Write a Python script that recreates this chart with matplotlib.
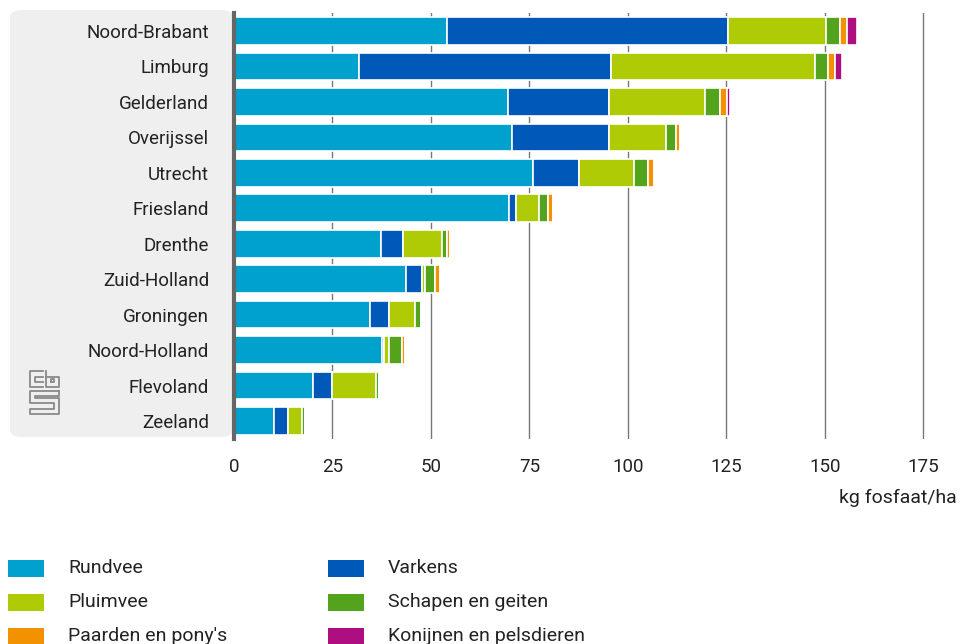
import numpy as np
import matplotlib
matplotlib.use("Agg")
import matplotlib.pyplot as plt
from matplotlib.patches import FancyBboxPatch, Rectangle

plt.rcParams['font.family'] = ['Roboto', 'DejaVu Sans']

provinces = ["Noord-Brabant", "Limburg", "Gelderland", "Overijssel", "Utrecht",
             "Friesland", "Drenthe", "Zuid-Holland", "Groningen", "Noord-Holland",
             "Flevoland", "Zeeland"]

rundvee  = [54.0, 31.8, 69.5, 70.7, 75.8, 69.9, 37.3, 43.7, 34.6, 37.7, 20.1, 10.2]
varkens  = [71.5, 63.8, 25.7, 24.5, 11.7, 1.7, 5.5, 4.0, 4.8, 0.4, 4.7, 3.6]
pluimvee = [24.9, 51.9, 24.4, 14.5, 14.1, 5.9, 9.9, 0.9, 6.5, 1.3, 11.2, 3.4]
schapen  = [3.4, 3.3, 3.8, 2.6, 3.4, 2.3, 1.3, 2.5, 1.6, 3.3, 0.8, 0.8]
paarden  = [1.8, 1.8, 1.7, 0.9, 1.7, 1.2, 0.8, 1.3, 0.0, 0.7, 0.0, 0.0]
konijnen = [2.5, 1.7, 0.9, 0.0, 0.0, 0.0, 0.0, 0.0, 0.0, 0.0, 0.0, 0.0]

series = [("Rundvee", rundvee, "#00a1cd"),
          ("Varkens", varkens, "#0058b8"),
          ("Pluimvee", pluimvee, "#afcb05"),
          ("Schapen en geiten", schapen, "#53a31d"),
          ("Paarden en pony's", paarden, "#f39200"),
          ("Konijnen en pelsdieren", konijnen, "#af0e80")]

xticks = [0, 25, 50, 75, 100, 125, 150, 175]

W, H = 961, 644
fig = plt.figure(figsize=(W / 100, H / 100), dpi=100)

# grey label panel
panel = FancyBboxPatch((10 / W, 1 - 437 / H), 223 / W, 427 / H,
                       boxstyle="round,pad=0,rounding_size=0.012",
                       transform=fig.transFigure, facecolor="#efefef",
                       edgecolor="none", zorder=-5)
fig.patches.append(panel)

ax = fig.add_axes([234 / W, 1 - 438.7 / H, 709 / W, 425.4 / H])
ax.set_facecolor("none")

y = np.arange(len(provinces))
left = np.zeros(len(provinces))
for name, vals, col in series:
    vals = np.array(vals)
    ax.barh(y, vals, left=left, height=0.78, color=col, edgecolor="white",
            linewidth=1.2, zorder=3)
    left += vals

ax.set_ylim(len(provinces) - 0.5, -0.5)
ax.set_xlim(0, 180)
ax.set_yticks(y)
ax.set_yticklabels(provinces, fontsize=13.5, color="#222222")
ax.tick_params(axis="y", length=0, pad=18)
ax.set_xticks(xticks)
ax.set_xticklabels([str(t) for t in xticks], fontsize=13.5, color="#222222")
ax.tick_params(axis="x", length=0, pad=14)
for t in xticks[1:]:
    ax.axvline(t, color="#777777", linewidth=1, zorder=1)
for s in ["top", "right", "bottom"]:
    ax.spines[s].set_visible(False)
ax.spines["left"].set_color("#666666")
ax.spines["left"].set_linewidth(3)
ax.spines["left"].set_zorder(5)

fig.text(957 / W, 1 - 498 / H, "kg fosfaat/ha", ha="right", va="center",
         fontsize=14, color="#222222")

# legend
order = [0, 2, 4, 1, 3, 5]
for k, idx in enumerate(order):
    name, vals, col = series[idx]
    colx = k // 3
    row = k % 3
    x0 = 8 + colx * 320
    yc = 568 + row * 34
    fig.patches.append(Rectangle((x0 / W, 1 - (yc + 8.5) / H), 36 / W, 17 / H,
                                 transform=fig.transFigure, facecolor=col,
                                 edgecolor="none"))
    fig.text((x0 + 60) / W, 1 - yc / H, name, ha="left", va="center",
             fontsize=14, color="#222222")

# simplified cbs logo
lax = fig.add_axes([28 / W, 1 - 416 / H, 33 / W, 47 / H])
lax.set_xlim(0, 10)
lax.set_ylim(0, 14)
lax.axis("off")
g = "#8a8a8a"
lw = 1.3
lax.plot([4.5, 0.5, 0.5, 4.5], [13.5, 13.5, 8.5, 8.5], color=g, lw=lw)
lax.plot([4.5, 2, 2, 4.5], [11.5, 11.5, 10, 10], color=g, lw=lw)
lax.plot([5.5, 5.5, 9.5, 9.5, 5.5], [13.5, 8.5, 8.5, 11.5, 11.5], color=g, lw=lw)
lax.plot([7, 8, 8, 7, 7], [10, 10, 11, 11, 10], color=g, lw=lw)
lax.plot([9.5, 0.5, 0.5, 8, 8, 0.5, 0.5, 9.5, 9.5, 2, 2, 9.5, 9.5],
         [7.5, 7.5, 4, 4, 2, 2, 0.5, 0.5, 5.5, 5.5, 6, 6, 7.5], color=g, lw=lw)

fig.savefig("out.png", dpi=100)
